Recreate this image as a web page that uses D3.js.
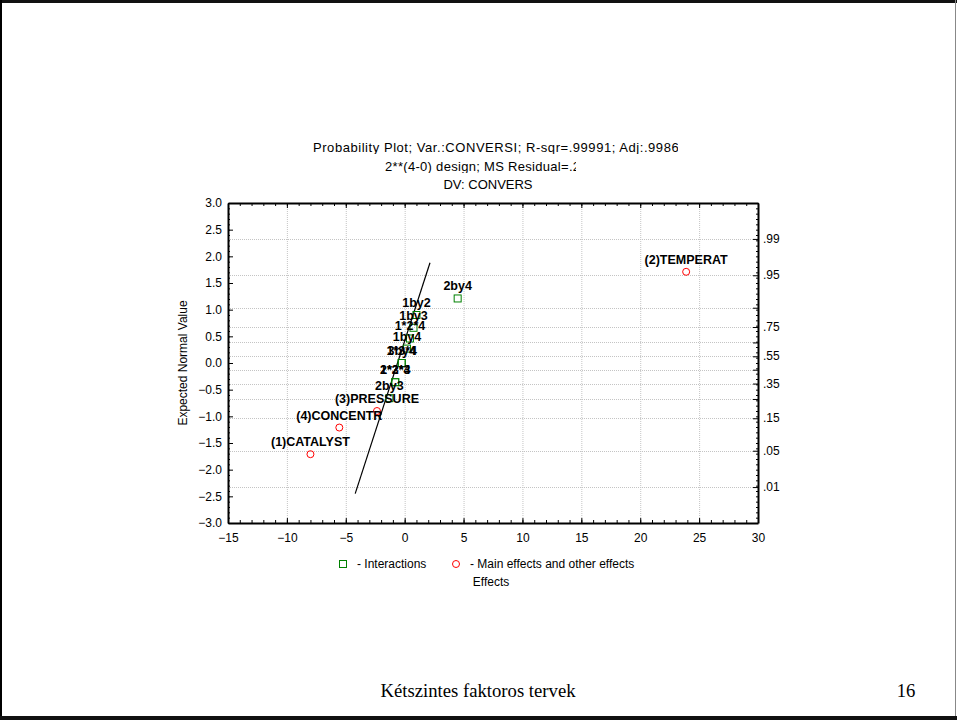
<!DOCTYPE html>
<html>
<head>
<meta charset="utf-8">
<script src="https://cdn.jsdelivr.net/npm/d3@7"></script>
<style>
  body { margin: 0; background: #fff; }
  svg text { font-family: "Liberation Sans", Arial, sans-serif; }
  .grid line { stroke: #c4c4c4; stroke-width: 1; stroke-dasharray: 1,1; }
  .axis path, .axis line { stroke: #000; }
  .axis text { font-size: 12px; fill: #000; }
  .ptlabel { font-size: 12.5px; font-weight: bold; fill: #000; text-anchor: middle; }
  .title { font-size: 13px; fill: #000; }
</style>
</head>
<body>
<script>
// effects of the 2**(4-0) design
const effectNames = ['(1)CATALYST', '(4)CONCENTR', '(3)PRESSURE', '2by3', '2*3*4', '1*2*3',
  '3by4', '1*3*4', '1by4', '1*2*4', '1by3', '1by2', '2by4', '(2)TEMPERAT'];
const effectKinds = ['main', 'main', 'main', 'inter', 'inter', 'inter',
  'inter', 'inter', 'inter', 'inter', 'inter', 'inter', 'inter', 'main'];
const effectValues = [-8.0, -5.55, -2.35, -1.3, -0.8, -0.8, -0.25, -0.25, 0.2, 0.45, 0.75, 1.0, 4.5, 23.9];
const normalValues = [-1.71, -1.21, -0.90, -0.66, -0.36, -0.36, 0.0, 0.0, 0.27, 0.46, 0.66, 0.90, 1.21, 1.71];

// fitted line end points [effect, expected normal value]
const fitLine = [[-4.2, -2.45], [2.15, 1.88]];

const xTicks = [-15, -10, -5, 0, 5, 10, 15, 20, 25, 30];
const yTicks = [-3, -2.5, -2, -1.5, -1, -0.5, 0, 0.5, 1, 1.5, 2, 2.5, 3];
const probGrid = [0.01, 0.05, 0.15, 0.25, 0.35, 0.45, 0.55, 0.65, 0.75, 0.85, 0.95, 0.99];
const probLabels = [0.99, 0.95, 0.75, 0.55, 0.35, 0.15, 0.05, 0.01];

const titleLines = [
  'Probability Plot; Var.:CONVERSI; R-sqr=.99991; Adj:.99862',
  '2**(4-0) design; MS Residual=.25',
  'DV: CONVERS'
];

// normal cdf and its inverse (for the probability axis)
function normCdf(z) {
  const t = 1 / (1 + 0.3275911 * Math.abs(z) / Math.SQRT2);
  const e = 1 - (((((1.061405429 * t - 1.453152027) * t) + 1.421413741) * t - 0.284496736) * t + 0.254829592) * t * Math.exp(-z * z / 2);
  return z >= 0 ? (1 + e) / 2 : (1 - e) / 2;
}
function probit(p) {
  let lo = -6, hi = 6;
  for (let k = 0; k < 60; k++) {
    const m = (lo + hi) / 2;
    if (normCdf(m) < p) lo = m; else hi = m;
  }
  return (lo + hi) / 2;
}

const W = 957, H = 720;
const margin = { top: 203, right: 199, bottom: 197, left: 228 };
const width = W - margin.left - margin.right;
const height = H - margin.top - margin.bottom;

const root = d3.select(document.body).append('svg')
  .attr('width', W)
  .attr('height', H);

// page frame
root.append('line').attr('x1', 0).attr('x2', W).attr('y1', 1.5).attr('y2', 1.5).attr('stroke', '#111').attr('stroke-width', 3);
root.append('line').attr('x1', 1).attr('x2', 1).attr('y1', 0).attr('y2', H).attr('stroke', '#000').attr('stroke-width', 2);
root.append('line').attr('x1', W - 1.5).attr('x2', W - 1.5).attr('y1', 0).attr('y2', H).attr('stroke', '#888').attr('stroke-width', 1);
root.append('line').attr('x1', 0).attr('x2', W).attr('y1', H - 2).attr('y2', H - 2).attr('stroke', '#111').attr('stroke-width', 4);

// title (clipped on the right like the original)
const clips = [[313, 678], [385, 576]];
const defs = root.append('defs');
clips.forEach((c, i) => {
  defs.append('clipPath').attr('id', 'tclip' + i)
    .append('rect').attr('x', c[0] - 2).attr('y', 132 + i * 19).attr('width', c[1] - c[0] + 2).attr('height', 22);
});
root.append('text').attr('class', 'title').attr('x', 313).attr('y', 152)
  .style('letter-spacing', '0.55px')
  .attr('clip-path', 'url(#tclip0)').text(titleLines[0]);
root.append('text').attr('class', 'title').attr('x', 385).attr('y', 171)
  .style('letter-spacing', '0.3px')
  .attr('clip-path', 'url(#tclip1)').text(titleLines[1]);
root.append('text').attr('class', 'title').attr('x', 488).attr('y', 189)
  .attr('text-anchor', 'middle').text(titleLines[2]);

const svg = root.append('g')
  .attr('transform', `translate(${margin.left},${margin.top})`);

const x = d3.scaleLinear().domain([-15, 30]).range([0, width]);
const y = d3.scaleLinear().domain([-3, 3]).range([height, 0]);

// grid
const grid = svg.append('g').attr('class', 'grid');
grid.selectAll('.vg').data(xTicks.slice(1, -1)).enter().append('line')
  .attr('x1', d => x(d) + 0.5).attr('x2', d => x(d) + 0.5)
  .attr('y1', 0).attr('y2', height);
grid.selectAll('.hg').data(probGrid).enter().append('line')
  .attr('x1', 0).attr('x2', width)
  .attr('y1', d => Math.round(y(probit(d))) + 0.5).attr('y2', d => Math.round(y(probit(d))) + 0.5);

// minor ticks
const xMinor = d3.range(-15, 31, 1);
const yMinor = d3.range(-30, 31, 1).map(d => d / 10);

svg.append('g').attr('class', 'axis')
  .attr('transform', `translate(0,${height})`)
  .call(d3.axisBottom(x).tickValues(xMinor).tickSize(-3).tickFormat(''))
  .call(g => g.select('.domain').remove());
svg.append('g').attr('class', 'axis')
  .call(d3.axisTop(x).tickValues(xMinor).tickSize(-3).tickFormat(''))
  .call(g => g.select('.domain').remove());
svg.append('g').attr('class', 'axis')
  .call(d3.axisLeft(y).tickValues(yMinor).tickSize(-2).tickFormat(''))
  .call(g => g.select('.domain').remove());
svg.append('g').attr('class', 'axis')
  .attr('transform', `translate(${width},0)`)
  .call(d3.axisRight(y).tickValues(yMinor).tickSize(-2).tickFormat(''))
  .call(g => g.select('.domain').remove());

// major axes
svg.append('g').attr('class', 'axis')
  .attr('transform', `translate(0,${height})`)
  .call(d3.axisBottom(x).tickValues(xTicks).tickSize(-5).tickSizeOuter(0).tickPadding(10).tickFormat(d3.format('d')))
  .call(g => g.select('.domain').attr('stroke-width', 2));
svg.append('g').attr('class', 'axis')
  .call(d3.axisTop(x).tickValues(xTicks).tickSize(-5).tickSizeOuter(0).tickFormat(''))
  .call(g => g.select('.domain').attr('stroke-width', 2));
svg.append('g').attr('class', 'axis')
  .call(d3.axisLeft(y).tickValues(yTicks).tickSize(-5).tickSizeOuter(0).tickPadding(6).tickFormat(d3.format('.1f')))
  .call(g => g.select('.domain').attr('stroke-width', 2));
svg.append('g').attr('class', 'axis')
  .attr('transform', `translate(${width},0)`)
  .call(d3.axisRight(y).tickValues(probGrid.map(probit)).tickSize(-5).tickSizeOuter(0).tickFormat(''))
  .call(g => g.select('.domain').attr('stroke-width', 2));

// probability labels on the right
svg.selectAll('.plab').data(probLabels).enter().append('text')
  .attr('x', width + 5)
  .attr('y', d => y(probit(d)))
  .attr('dy', '0.35em')
  .attr('font-size', 12)
  .text(d => d3.format('.2f')(d).replace(/^0/, ''));

// axis title
svg.append('text')
  .attr('transform', `translate(${183 - margin.left},${height / 2}) rotate(-90)`)
  .attr('text-anchor', 'middle')
  .attr('dy', '0.35em')
  .attr('font-size', 12)
  .text('Expected Normal Value');

// fitted line
svg.append('path')
  .attr('d', d3.line().x(d => x(d[0])).y(d => y(d[1]))(fitLine))
  .attr('stroke', '#000').attr('stroke-width', 1.2).attr('fill', 'none');

// points
const data = effectNames.map((n, i) => ({ name: n, kind: effectKinds[i], v: effectValues[i], z: normalValues[i] }));

svg.selectAll('.sq').data(data.filter(d => d.kind === 'inter')).enter().append('rect')
  .attr('x', d => x(d.v) - 3.5).attr('y', d => y(d.z) - 3.5)
  .attr('width', 7).attr('height', 7)
  .attr('fill', 'none').attr('stroke', '#008000').attr('stroke-width', 1);

svg.selectAll('.ci').data(data.filter(d => d.kind === 'main')).enter().append('circle')
  .attr('cx', d => x(d.v)).attr('cy', d => y(d.z)).attr('r', 3.5)
  .attr('fill', 'none').attr('stroke', '#ff0000').attr('stroke-width', 1);

svg.selectAll('.ptlabel').data(data).enter().append('text')
  .attr('class', 'ptlabel')
  .attr('x', d => x(d.v))
  .attr('y', d => y(d.z) - 8)
  .text(d => d.name);

// legend
const legend = root.append('g');
legend.append('rect').attr('x', 339.5).attr('y', 560.5).attr('width', 7).attr('height', 7)
  .attr('fill', 'none').attr('stroke', '#008000');
legend.append('text').attr('x', 357).attr('y', 568).attr('font-size', 12).text('- Interactions');
legend.append('circle').attr('cx', 456).attr('cy', 564).attr('r', 3.5)
  .attr('fill', 'none').attr('stroke', '#ff0000');
legend.append('text').attr('x', 470).attr('y', 568).attr('font-size', 12).text('- Main effects and other effects');
legend.append('text').attr('x', 491).attr('y', 586).attr('font-size', 12).attr('text-anchor', 'middle').text('Effects');

// slide footer
root.append('text').attr('x', 478).attr('y', 697)
  .attr('text-anchor', 'middle')
  .style('font-family', '"Liberation Serif", "Times New Roman", serif')
  .style('font-size', '18.7px')
  .text('Kétszintes faktoros tervek');
root.append('text').attr('x', 906).attr('y', 697)
  .attr('text-anchor', 'middle')
  .style('font-family', '"Liberation Serif", "Times New Roman", serif')
  .style('font-size', '18.7px')
  .text('16');
</script>
</body>
</html>
